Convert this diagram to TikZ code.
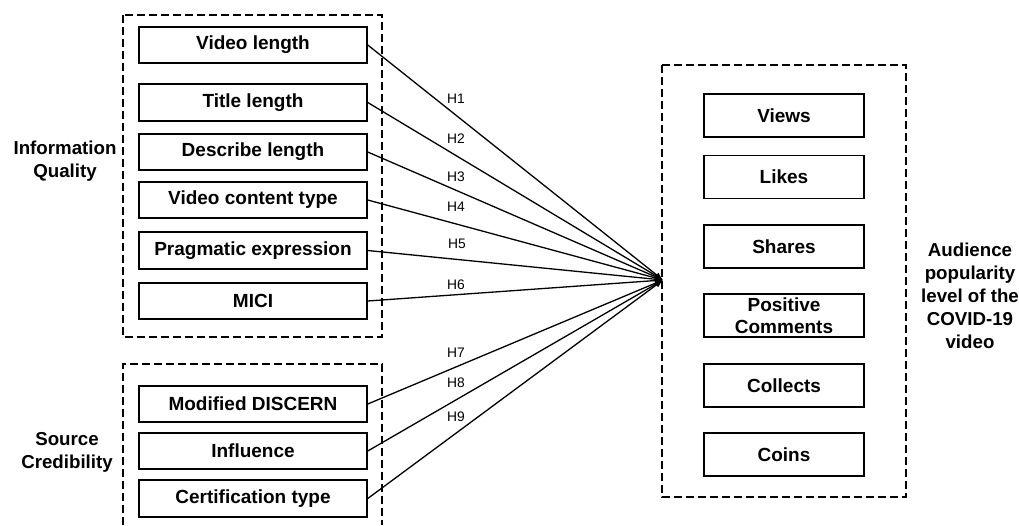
\documentclass[tikz,border=0pt]{standalone}
\usepackage{fontspec}
\setmainfont{Liberation Sans}
\usetikzlibrary{arrows.meta}
\tikzset{
  x=1pt, y=-1pt,
  lbox/.style={draw, line width=1.5pt, minimum width=228pt, minimum height=36pt, inner sep=0pt,
    font=\bfseries\fontsize{19}{22}\selectfont},
  rbox/.style={draw, line width=1.5pt, minimum width=160pt, minimum height=43pt, inner sep=0pt, align=center,
    font=\bfseries\fontsize{19}{22}\selectfont},
  grp/.style={draw, line width=1.4pt, dash pattern=on 8pt off 4pt},
  glabel/.style={align=center, inner sep=0pt, font=\bfseries\fontsize{18.7}{23}\selectfont},
  hlab/.style={inner sep=0pt, font=\fontsize{13.8}{16}\selectfont},
  conn/.style={line width=1.3pt, -{Latex[length=8pt,width=6pt]}},
}
\begin{document}
\begin{tikzpicture}
\useasboundingbox (0,0) rectangle (1019,525);
% group frames
\draw[grp] (123,15) rectangle (382,337);
\draw[grp] (123,525) -- (123,364) -- (382,364) -- (382,525);
\draw[grp] (662,65) rectangle (906,497);
% left boxes
\node[lbox] (vl) at (253,45) {Video length};
\node[lbox, minimum height=37pt] (tl) at (253,102.5) {Title length};
\node[lbox] (dl) at (253,152) {Describe length};
\node[lbox] (vc) at (253,200) {Video content type};
\node[lbox, minimum height=37pt] (pe) at (253,250.5) {Pragmatic expression};
\node[lbox] (mi) at (253,301) {MICI};
\node[lbox] (md) at (253,404) {Modified DISCERN};
\node[lbox] (in) at (253,451) {Influence};
\node[lbox, minimum height=37pt] (ct) at (253,498.5) {Certification type};
% right boxes
\node[rbox] (views) at (784,115.5) {Views};
\node[rbox] (likes) at (784,177) {Likes};
\node[rbox] (shares) at (784,246.5) {Shares};
\node[rbox] (pos) at (784,315.5) {Positive\\Comments};
\node[rbox] (coll) at (784,385.5) {Collects};
\node[rbox] (coins) at (784,454.5) {Coins};
% group labels
\node[glabel] (iq) at (65,161) {Information\\Quality};
\node[glabel] (sc) at (67,452) {Source\\Credibility};
\node[glabel] (aud) at (970,296) {Audience\\popularity\\level of the\\COVID-19\\video};
% convergence point
\coordinate (target) at (663,280);
% connectors
\draw[conn] (vl.east) -- (target);
\draw[conn] (tl.east) -- (target);
\draw[conn] (dl.east) -- (target);
\draw[conn] (vc.east) -- (target);
\draw[conn] (pe.east) -- (target);
\draw[conn] (mi.east) -- (target);
\draw[conn] (md.east) -- (target);
\draw[conn] (in.east) -- (target);
\draw[conn] (ct.east) -- (target);
% hypothesis labels
\node[hlab] (h1) at (456,99) {H1};
\node[hlab] (h2) at (456,139) {H2};
\node[hlab] (h3) at (456,177) {H3};
\node[hlab] (h4) at (456,207) {H4};
\node[hlab] (h5) at (457,244) {H5};
\node[hlab] (h6) at (456,285) {H6};
\node[hlab] (h7) at (456,353) {H7};
\node[hlab] (h8) at (456,383) {H8};
\node[hlab] (h9) at (456,417) {H9};
\end{tikzpicture}
\end{document}
